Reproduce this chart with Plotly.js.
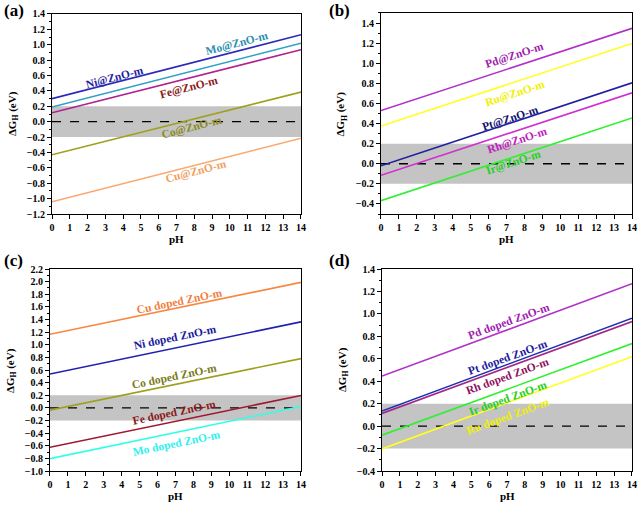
<!DOCTYPE html>
<html><head><meta charset="utf-8">
<script src="https://cdn.plot.ly/plotly-3.0.1.min.js"></script>
<style>html,body{margin:0;padding:0;background:#fff}#plot{width:640px;height:505px}</style>
</head><body><div id="plot"></div>
<script>
// pH endpoints
const pH = [0, 14];
// Panel (a) series (ΔG_H at pH 0 and pH 14)
const aNames = ['Ni@ZnO-m','Mo@ZnO-m','Fe@ZnO-m','Co@ZnO-m','Cu@ZnO-m'];
const aNi = [0.30, 1.13];
const aMo = [0.19, 1.02];
const aFe = [0.115, 0.935];
const aCo = [-0.43, 0.385];
const aCu = [-1.04, -0.215];
// Panel (b)
const bNames = ['Pd@ZnO-m','Ru@ZnO-m','Pt@ZnO-m','Rh@ZnO-m','Ir@ZnO-m'];
const bPd = [0.53, 1.347];
const bRu = [0.375, 1.197];
const bPt = [-0.02, 0.805];
const bRh = [-0.115, 0.706];
const bIr = [-0.367, 0.456];
// Panel (c)
const cNames = ['Cu doped ZnO-m','Ni doped ZnO-m','Co doped ZnO-m','Fe doped ZnO-m','Mo doped ZnO-m'];
const cCu = [1.167, 1.988];
const cNi = [0.536, 1.363];
const cCo = [-0.036, 0.78];
const cFe = [-0.624, 0.197];
const cMo = [-0.804, 0.023];
// Panel (d)
const dNames = ['Pd doped ZnO-m','Pt doped ZnO-m','Rh doped ZnO-m','Ir doped ZnO-m','Ru doped ZnO-m'];
const dPd = [0.446, 1.269];
const dPt = [0.134, 0.962];
const dRh = [0.113, 0.932];
const dIr = [-0.081, 0.736];
const dRu = [-0.203, 0.619];

const panels = [
  {ax:'', series:[aNi,aMo,aFe,aCo,aCu], names:aNames,
   lc:['#2a2ab8','#30a0c4','#b0208c','#a0a020','#f8a870'],
   tc:['#1f1fa0','#2a8fb0','#8b1a1a','#8a8a20','#f0a060'],
   lx:[3.54,10.4,7.7,7.85,8.1], ly:[0.58,1.01,0.45,-0.08,-0.65], ang:-14.5,
   range:[-1.2,1.4], dom:{x:[0.0813,0.4703], y:[0.5762,0.9723]}},
  {ax:'2', series:[bPd,bRu,bPt,bRh,bIr], names:bNames,
   lc:['#b030c8','#ffff20','#2020a0','#d030d0','#30f030'],
   tc:['#a020b0','#f0f000','#101070','#c020c0','#20d020'],
   lx:[7.42,7.47,7.2,7.6,7.37], ly:[1.08,0.70,0.455,0.236,0.01], ang:-18,
   range:[-0.5,1.5], dom:{x:[0.5953,0.9875], y:[0.5762,0.9743]}},
  {ax:'3', series:[cCu,cNi,cCo,cFe,cMo], names:cNames,
   lc:['#f88840','#2020b0','#a0a020','#a01830','#30ffe8'],
   tc:['#f08040','#1a1aa0','#7a7a20','#8b1a1a','#30f0f0'],
   lx:[7.25,6.97,6.97,6.97,7.08], ly:[1.68,1.12,0.50,-0.08,-0.56], ang:-11.7,
   range:[-1.0,2.2], dom:{x:[0.0781,0.4703], y:[0.0673,0.4673]}},
  {ax:'4', series:[dPd,dPt,dRh,dIr,dRu], names:dNames,
   lc:['#b030c8','#2030b0','#a02888','#30f030','#ffff20'],
   tc:['#a020b0','#1a1aa0','#901060','#20d020','#f0f000'],
   lx:[7.1,7.05,7.0,7.05,7.05], ly:[0.93,0.615,0.44,0.25,0.09], ang:-20,
   range:[-0.4,1.4], dom:{x:[0.5969,0.9875], y:[0.0673,0.4673]}}
];
const letters = ['(a)','(b)','(c)','(d)'];
const F = 'Liberation Serif, Times New Roman, serif';
const traces = [], shapes = [], annotations = [];
const layout = {width:640, height:505, margin:{l:0,r:0,t:0,b:0}, showlegend:false,
  paper_bgcolor:'#fff', plot_bgcolor:'#fff', font:{family:F, color:'#000'}};

panels.forEach((p,i)=>{
  const xa = 'x'+p.ax, ya = 'y'+p.ax;
  shapes.push({type:'rect', xref:xa, yref:ya, x0:0, x1:14, y0:-0.2, y1:0.2,
    fillcolor:'#c4c4c4', line:{width:0}, layer:'below'});
  shapes.push({type:'line', xref:xa, yref:ya, x0:0, x1:14, y0:0, y1:0,
    line:{color:'#000', width:1.3, dash:'dash'}, layer:'below'});
  p.series.forEach((s,k)=>{
    traces.push({x:pH, y:s, xaxis:xa, yaxis:ya, mode:'lines', type:'scatter',
      line:{color:p.lc[k], width:1.6}, name:p.names[k], hoverinfo:'skip'});
    annotations.push({xref:xa, yref:ya, x:p.lx[k], y:p.ly[k], text:'<b>'+p.names[k]+'</b>',
      showarrow:false, textangle:p.ang, font:{family:F, size:11.5, color:p.tc[k]}});
  });
  const xk = 'xaxis'+p.ax, yk = 'yaxis'+p.ax;
  layout[xk] = {domain:p.dom.x, range:[0,14], anchor:ya, dtick:1, tick0:0,
    ticks:'outside', ticklen:4, tickwidth:1, tickcolor:'#000',
    showline:true, linecolor:'#000', linewidth:1, mirror:true,
    showgrid:false, zeroline:false, fixedrange:true,
    tickfont:{family:F, size:10, weight:'bold', color:'#000'}};
  layout[yk] = {domain:p.dom.y, range:p.range, anchor:xa, dtick:0.2, tick0:0,
    tickformat:'.1f', ticks:'outside', ticklen:4, tickwidth:1, tickcolor:'#000',
    minor:{dtick:0.1, ticks:'outside', ticklen:2, tickcolor:'#000', tickwidth:1, showgrid:false},
    showline:true, linecolor:'#000', linewidth:1, mirror:true,
    showgrid:false, zeroline:false, fixedrange:true,
    tickfont:{family:F, size:10, weight:'bold', color:'#000'}};
  const x0 = p.dom.x[0], x1 = p.dom.x[1], y0 = p.dom.y[0], y1 = p.dom.y[1];
  annotations.push({xref:'paper', yref:'paper', x:x0 - 39/640, y:(y0+y1)/2,
    text:'<b>ΔG<sub>H</sub> (eV)</b>', textangle:-90, showarrow:false,
    xanchor:'center', yanchor:'middle', font:{family:F, size:11, color:'#000'}});
  annotations.push({xref:'paper', yref:'paper', x:(x0+x1)/2, y:y0 - 25/505,
    text:'<b>pH</b>', showarrow:false, xanchor:'center', yanchor:'middle',
    font:{family:F, size:11, color:'#000'}});
  annotations.push({xref:'paper', yref:'paper', x:(i%2===0 ? 2 : 327)/640,
    y:1 - ((i<2 ? 10 : 260)/505), text:'<b>'+letters[i]+'</b>', showarrow:false,
    xanchor:'left', yanchor:'middle', font:{family:F, size:17, color:'#000'}});
});
layout.shapes = shapes;
layout.annotations = annotations;
Plotly.newPlot('plot', traces, layout, {staticPlot:true, displayModeBar:false});
</script>
</body></html>
